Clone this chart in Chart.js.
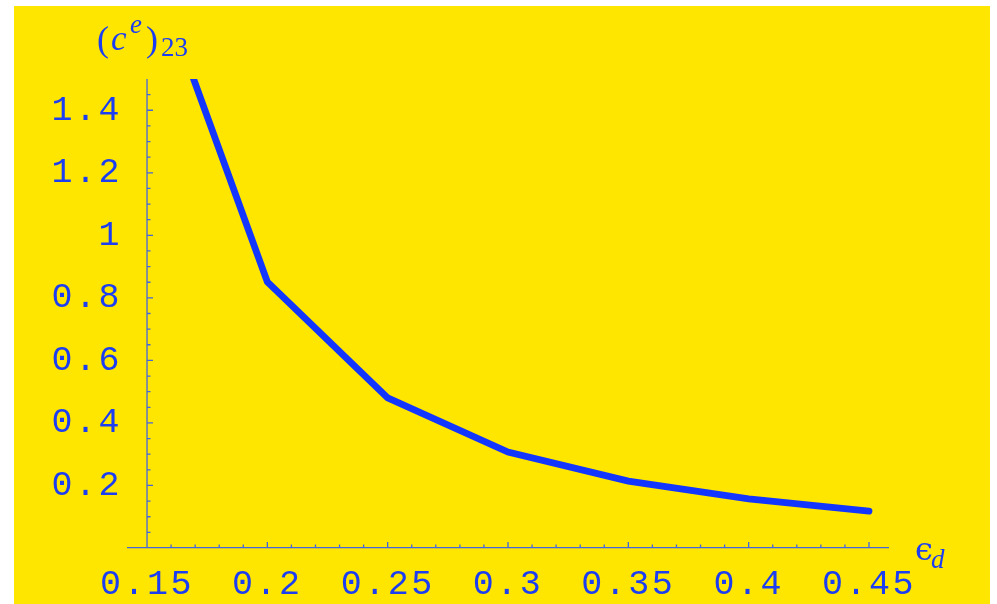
<!DOCTYPE html>
<html>
<head>
<meta charset="utf-8">
<script src="https://cdn.jsdelivr.net/npm/chart.js@4.4.1/dist/chart.umd.min.js"></script>
<style>
  html, body { margin: 0; background: #fff; }
  canvas { display: block; }
</style>
</head>
<body>
<canvas id="chart" width="997" height="604"></canvas>
<script>
// values
const epsD = [0.15, 0.2, 0.25, 0.3, 0.35, 0.4, 0.45];
const c23 = [1.91, 0.851, 0.48, 0.307, 0.214, 0.157, 0.118];

// tick positions
const xTicks = [0.15, 0.2, 0.25, 0.3, 0.35, 0.4, 0.45];
const yTicks = [0.2, 0.4, 0.6, 0.8, 1, 1.2, 1.4];
const xMinor = [0.16, 0.17, 0.18, 0.19, 0.21, 0.22, 0.23, 0.24, 0.26, 0.27, 0.28, 0.29,
  0.31, 0.32, 0.33, 0.34, 0.36, 0.37, 0.38, 0.39, 0.41, 0.42, 0.43, 0.44];
const yMinor = [0.05, 0.1, 0.15, 0.25, 0.3, 0.35, 0.45, 0.5, 0.55, 0.65, 0.7, 0.75,
  0.85, 0.9, 0.95, 1.05, 1.1, 1.15, 1.25, 1.3, 1.35, 1.45];

const yellow = '#ffe600';
const lineBlue = '#1236ff';
const textBlue = '#1c3ef2';
const axisBlue = '#4466dd';
const tickFont = { family: 'Liberation Mono', size: 35 };

// mono labels in the original are widely spaced
function spacing(chart, v) { chart.ctx.letterSpacing = v; }

const framePlugin = {
  id: 'frame',
  beforeUpdate(chart) { spacing(chart, '2.5px'); },
  beforeLayout(chart) { spacing(chart, '2.5px'); },
  beforeDraw(chart) {
    const ctx = chart.ctx;
    ctx.save();
    ctx.fillStyle = '#fff';
    ctx.fillRect(0, 0, chart.width, chart.height);
    ctx.fillStyle = yellow;
    ctx.fillRect(14, 6, 976, 598);
    ctx.restore();
    spacing(chart, '2.5px');
  },
  beforeDatasetsDraw(chart) {
    // y axis sits at x = 0.15, ticks point inward
    const ctx = chart.ctx;
    const xs = chart.scales.x, ys = chart.scales.y;
    const x0 = xs.getPixelForValue(0.15);
    const yb = ys.getPixelForValue(0);
    ctx.save();
    ctx.strokeStyle = axisBlue;
    ctx.lineWidth = 1.3;
    ctx.beginPath();
    ctx.moveTo(x0, ys.getPixelForValue(1.5));
    ctx.lineTo(x0, yb);
    yTicks.forEach(v => { const p = ys.getPixelForValue(v); ctx.moveTo(x0, p); ctx.lineTo(x0 + 6, p); });
    yMinor.forEach(v => { const p = ys.getPixelForValue(v); ctx.moveTo(x0, p); ctx.lineTo(x0 + 3.5, p); });
    xTicks.forEach(v => { const p = xs.getPixelForValue(v); ctx.moveTo(p, yb); ctx.lineTo(p, yb - 6); });
    xMinor.forEach(v => { const p = xs.getPixelForValue(v); ctx.moveTo(p, yb); ctx.lineTo(p, yb - 3.5); });
    ctx.stroke();
    ctx.restore();
  },
  afterDraw(chart) {
    const ctx = chart.ctx;
    ctx.save();
    ctx.letterSpacing = '0px';
    ctx.fillStyle = textBlue;
    ctx.textAlign = 'left';
    ctx.textBaseline = 'alphabetic';
    // (c^e)_23
    ctx.font = '36px "Liberation Serif"';
    ctx.fillText('(', 97, 51);
    ctx.font = 'italic 35px "Liberation Serif"';
    ctx.fillText('c', 111, 50);
    ctx.font = 'italic 27px "Liberation Serif"';
    ctx.fillText('e', 130, 33);
    ctx.font = '36px "Liberation Serif"';
    ctx.fillText(')', 146, 51);
    ctx.font = '27px "Liberation Serif"';
    ctx.fillText('23', 161, 56);
    // epsilon_d
    ctx.font = '32px "DejaVu Serif"';
    ctx.fillText('\u03f5', 915, 560);
    ctx.font = 'italic 27px "Liberation Serif"';
    ctx.fillText('d', 931, 568);
    ctx.restore();
  }
};

new Chart(document.getElementById('chart'), {
  type: 'line',
  data: {
    datasets: [{
      data: epsD.map((x, i) => ({ x: x, y: c23[i] })),
      borderColor: lineBlue,
      borderWidth: 6.8,
      borderCapStyle: 'round',
      borderJoinStyle: 'miter',
      pointRadius: 0,
      tension: 0,
      fill: false,
      clip: 0
    }]
  },
  options: {
    responsive: false,
    animation: false,
    events: [],
    layout: { padding: { top: 79, right: 109, left: 0, bottom: 0 } },
    plugins: { legend: { display: false }, tooltip: { enabled: false } },
    scales: {
      x: {
        type: 'linear',
        min: 0.1421,
        max: 0.4579,
        afterBuildTicks: s => { s.ticks = xTicks.map(v => ({ value: v })); },
        afterFit: s => { s.height = 56; },
        grid: { display: false, drawTicks: false },
        border: { display: true, color: axisBlue, width: 1.3 },
        ticks: {
          font: tickFont, color: textBlue, padding: 16,
          autoSkip: false, maxRotation: 0,
          callback: v => String(v)
        }
      },
      y: {
        type: 'linear',
        min: 0,
        max: 1.5,
        afterBuildTicks: s => { s.ticks = yTicks.map(v => ({ value: v })); },
        afterFit: s => { s.width = 128; },
        grid: { display: false, drawTicks: false },
        border: { display: false },
        ticks: {
          font: tickFont, color: textBlue, padding: 6,
          autoSkip: false,
          callback: v => String(v)
        }
      }
    }
  },
  plugins: [framePlugin]
});
</script>
</body>
</html>
